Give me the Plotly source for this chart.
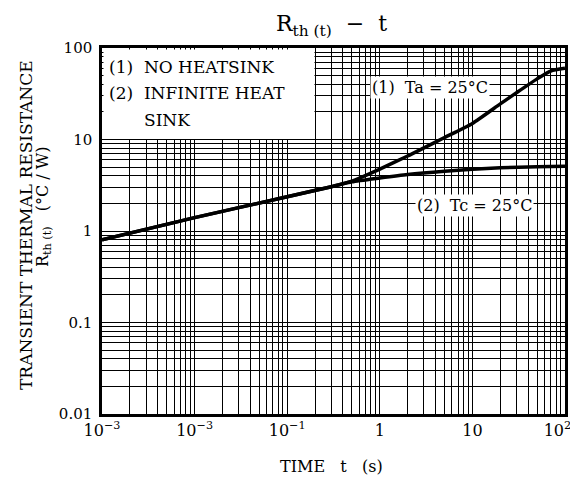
import numpy as np
import plotly.graph_objects as go

# ---- data ----
ta_t = [0.001, 0.01, 0.1, 0.3, 0.5, 1, 2, 3, 5, 10, 20, 30, 50, 70, 100]
ta_r = [0.80, 1.40, 2.37, 3.05, 3.50, 4.75, 6.6, 8.1, 10.5, 15.0, 24.5, 32.5, 46, 56, 60]

tc_t = [0.001, 0.01, 0.1, 0.3, 0.5, 1, 2, 5, 10, 20, 50, 100]
tc_r = [0.80, 1.40, 2.37, 3.05, 3.45, 3.80, 4.15, 4.50, 4.72, 4.90, 5.05, 5.10]

x_major = [1e-3, 1e-2, 1e-1, 1, 10, 100]
x_major_text = ["10<sup>\u22123</sup>", "10<sup>\u22123</sup>", "10<sup>\u22121</sup>", "1", "10",
                "10<sup>2</sup>\u00a0\u00a0\u00a0"]
y_major = [0.01, 0.1, 1, 10, 100]
y_major_text = ["0.01", "0.1", "1", "10", "100"]
minor_mult = [2, 3, 4, 5, 6, 7, 8, 9]

label_ta = "(1)\u00a0\u00a0Ta = 25\u00b0C"
label_tc = "(2)\u00a0\u00a0Tc = 25\u00b0C"
legend_lines = ["(1)\u00a0\u00a0NO HEATSINK", "(2)\u00a0\u00a0INFINITE HEAT", "SINK"]

FONT = "DejaVu Serif"

def minors(majors):
    out = []
    for m in majors[:-1]:
        out += [m * k for k in minor_mult]
    return out

# page has an 8px body margin -> figure starts at (8, 8) in the window
OFF = 8
W, H = 578 - OFF, 483 - 2 * OFF
L, R, T, B = 102, 565, 48, 414   # plot area in reference (window) pixel coords

def px(x):
    return (x - L) / (R - L)

def py(y):
    return (B - y) / (B - T)

fig = go.Figure()
fig.add_trace(go.Scatter(x=ta_t, y=ta_r, mode="lines", line=dict(color="black", width=3.5, shape="spline", smoothing=0.6), showlegend=False))
fig.add_trace(go.Scatter(x=tc_t, y=tc_r, mode="lines", line=dict(color="black", width=3.5, shape="spline", smoothing=0.6), showlegend=False))

axis_common = dict(type="log", showgrid=True, gridcolor="black", gridwidth=1,
                   showline=True, linecolor="black", linewidth=2.5, mirror=True,
                   ticks="", zeroline=False, tickmode="array", automargin=False,
                   ticklabeloverflow="allow",
                   tickfont=dict(family=FONT, size=15, color="black"))

fig.update_xaxes(range=[-3, 2], tickvals=x_major, ticktext=x_major_text,
                 minor=dict(tickmode="array", tickvals=minors(x_major), showgrid=True,
                            gridcolor="black", gridwidth=1, ticks=""),
                 **axis_common)
fig.update_yaxes(range=[-2, 2], tickvals=y_major, ticktext=y_major_text, ticklabelstandoff=4,
                 minor=dict(tickmode="array", tickvals=minors(y_major), showgrid=True,
                            gridcolor="black", gridwidth=1, ticks=""),
                 **axis_common)
fig.update_xaxes(tickfont=dict(size=16))

# white legend box covering the grid in the upper-left
fig.add_shape(type="rect", xref="paper", yref="paper",
              x0=1.5 / (R - L), x1=(np.log10(0.2) + 3) / 5 - 0.6 / (R - L),
              y0=0.75 + 0.6 / (B - T), y1=1 - 1.5 / (B - T),
              fillcolor="white", line=dict(width=0), layer="above")

ann = []
ann.append(dict(text=legend_lines[0], x=px(107), y=py(67), xanchor="left", yanchor="middle", font=dict(size=17)))
ann.append(dict(text=legend_lines[1], x=px(107), y=py(93), xanchor="left", yanchor="middle", font=dict(size=17)))
ann.append(dict(text=legend_lines[2], x=px(142), y=py(120), xanchor="left", yanchor="middle", font=dict(size=17)))
ann.append(dict(text=label_ta, x=px(430), y=py(87), xanchor="center", yanchor="middle", font=dict(size=16), bgcolor="white", borderpad=1))
ann.append(dict(text=label_tc, x=px(474), y=py(205), xanchor="center", yanchor="middle", font=dict(size=16), bgcolor="white", borderpad=1))
ann.append(dict(text="TIME\u00a0\u00a0\u00a0t\u00a0\u00a0\u00a0(s)", x=px(331), y=py(466), xanchor="center", yanchor="middle", font=dict(size=16)))
ann.append(dict(text="TRANSIENT THERMAL RESISTANCE", x=px(26), y=py(225), xanchor="center", yanchor="middle", textangle=-90, font=dict(size=17)))
ann.append(dict(text="R<sub>th (t)</sub>\u00a0\u00a0\u00a0(\u00b0C / W)", x=px(43), y=py(207), xanchor="center", yanchor="middle", textangle=-90, font=dict(size=16)))
ann.append(dict(text="R<sub>th (t)</sub>\u00a0\u00a0\u2212\u00a0\u00a0t", x=px(331), y=py(25), xanchor="center", yanchor="middle", font=dict(size=22)))

for a in ann:
    a.update(xref="paper", yref="paper", showarrow=False)
    a["font"] = dict(family=FONT, color="black", **a["font"])
fig.update_layout(annotations=ann)

fig.update_layout(width=W, height=H,
                  margin=dict(l=L - OFF, r=W - (R - OFF), t=T - OFF, b=H - (B - OFF), pad=0,
                              autoexpand=False),
                  paper_bgcolor="white", plot_bgcolor="white",
                  font=dict(family=FONT, color="black"), showlegend=False)

fig.write_html("out.html")
